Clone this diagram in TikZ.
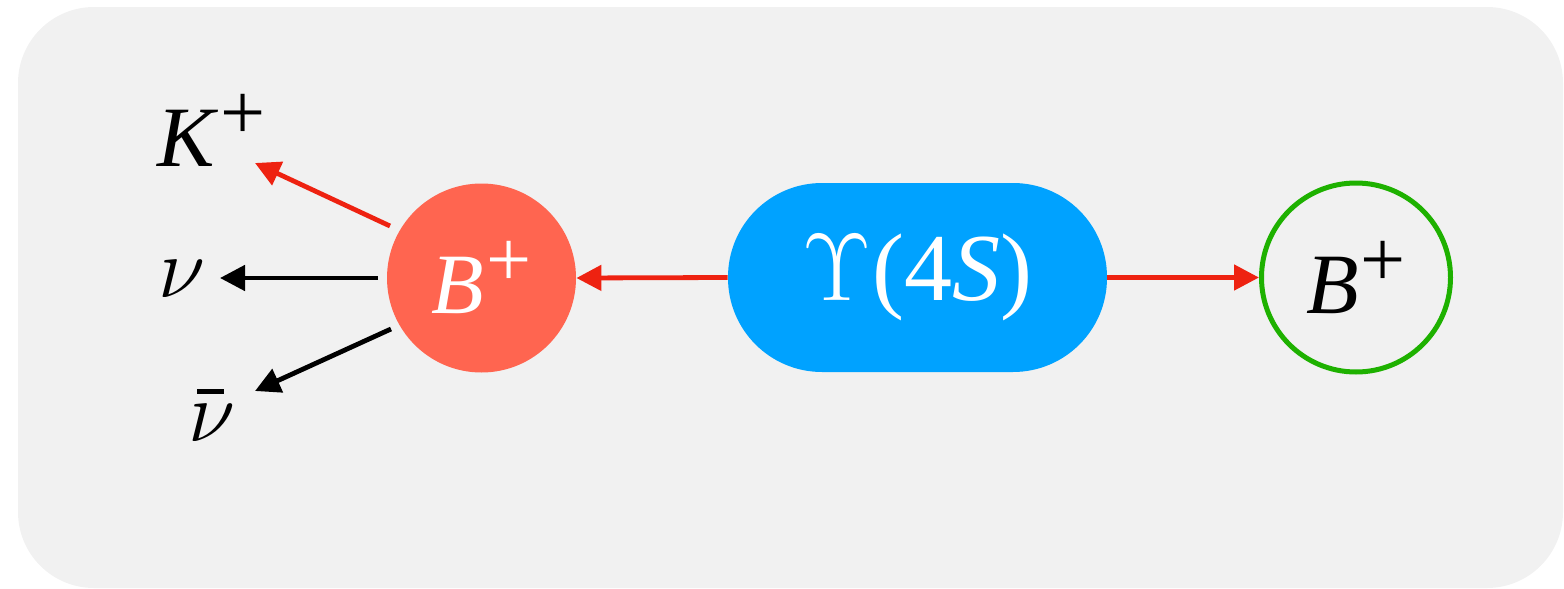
\RequirePackage{fix-cm}
\documentclass[tikz,border=0pt]{standalone}
\usepackage[no-math]{fontspec}
\setmainfont{Liberation Serif}
\usetikzlibrary{arrows.meta}

\definecolor{panel}{RGB}{241,241,241}
\definecolor{decayred}{RGB}{238,34,17}
\definecolor{bmeson}{RGB}{255,101,80}
\definecolor{upsblue}{RGB}{0,162,255}
\definecolor{tagreen}{RGB}{30,177,0}

% charge superscript and particle symbols
\newcommand{\chargeplus}{\hspace{1pt}\raisebox{13.5pt}{\fontsize{40}{44}\selectfont +}}
\newcommand{\bplus}{\textit{B}\chargeplus}
\newcommand{\kplus}{\textit{K}\chargeplus}
\newcommand{\nusym}{$\nu$}
\newcommand{\nubar}{\rlap{\hspace{4.5pt}\rule[23.5pt]{13.5pt}{2.3pt}}$\nu$}

\tikzset{
  sym/.style={inner sep=0pt, font=\fontsize{43}{47}\selectfont},
  label/.style={sym, anchor=base west},
  mesonball/.style={circle, inner sep=0pt, minimum size=94.5pt, sym},
  decayarrow/.style={line width=2.4pt, -{Triangle[length=12.5pt,width=12.5pt]}},
}

\begin{document}
\begin{tikzpicture}[x=0.5pt, y=-0.5pt]
\useasboundingbox (0,0) rectangle (1564,589);

% grey panel
\fill[panel, rounded corners=38pt] (18,7) rectangle (1563,588);

% particles
\node[mesonball, fill=bmeson, text=white] (bsig) at (481.5,278) {\bplus};
\node[rectangle, fill=upsblue, rounded corners=47pt, minimum width=189.5pt,
      minimum height=94.5pt, inner sep=0pt, text=white,
      font=\fontsize{48}{52}\selectfont] (ups) at (917.5,277.5) {$\Upsilon$(4\textit{S})};
\node[mesonball, draw=tagreen, line width=2.5pt, text=black] (btag) at (1356,277.5) {\bplus};

% decay products
\node[label] (kaon) at (157,166) {\kplus};
\node[label] (nu) at (158,297) {\nusym};
\node[label] (anu) at (188,441) {\nubar};

% arrow end points near the products
\coordinate (k0) at (390,226);
\coordinate (k1) at (255,163);
\coordinate (n0) at (378,278);
\coordinate (n1) at (220,278);
\coordinate (a0) at (391,329);
\coordinate (a1) at (255,391);

% Upsilon(4S) -> B+ B-
\draw[decayarrow, decayred] (ups.west) -- (bsig.east);
\draw[decayarrow, decayred] (ups.east) -- (btag.west);

% B+ -> K+ nu nubar
\draw[decayarrow, decayred] (k0) -- (k1);
\draw[decayarrow, black] (n0) -- (n1);
\draw[decayarrow, black] (a0) -- (a1);
\end{tikzpicture}
\end{document}
